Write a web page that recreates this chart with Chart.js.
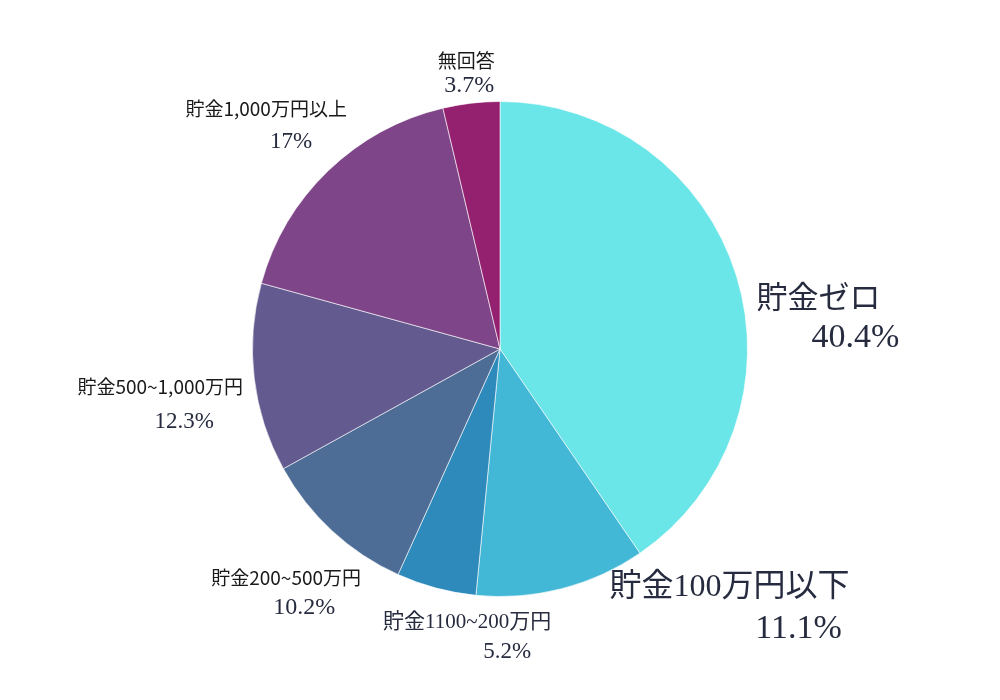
<!DOCTYPE html>
<html>
<head>
<meta charset="utf-8">
<script src="https://cdn.jsdelivr.net/npm/chart.js@4.4.1/dist/chart.umd.min.js"></script>
<style>
  html, body { margin: 0; padding: 0; background: #fff; }
  #wrap { width: 1000px; height: 700px; }
</style>
</head>
<body>
<div id="wrap"><canvas id="pie"></canvas></div>
<script>
// データ
const categories = ['貯金ゼロ', '貯金100万円以下', '貯金1100~200万円', '貯金200~500万円', '貯金500~1,000万円', '貯金1,000万円以上', '無回答'];
const shares = [40.4, 11.1, 5.2, 10.2, 12.3, 17, 3.7];
const sliceColors = ['#6ae5e8', '#42b7d6', '#2e8abb', '#4d6d97', '#635a8f', '#7f4589', '#93216f'];

// ラベルの配置（円弧の中点からのずれ）とフォント
const SERIF = '"Liberation Serif", "Noto Sans CJK JP", serif';
const SANS = '"Noto Sans CJK JP", sans-serif';
const labelLayout = [
    { dx: 82, dy: 24, dx2: 37, dy2: 38, nameFont: '31px ' + SERIF, nameColor: '#262b3f', pctFont: '34px ' + SERIF },
    { dx: 168, dy: -1, dx2: 69, dy2: 41, nameFont: '32px ' + SERIF, nameColor: '#262b3f', pctFont: '34px ' + SERIF },
    { dx: 31, dy: 34, dx2: 40, dy2: 30, nameFont: '21px ' + SERIF, nameColor: '#262b3f', pctFont: '23px ' + SERIF },
    { dx: -46, dy: 47, dx2: 18, dy2: 30, nameFont: '19px ' + SANS, nameColor: '#1a1a1a', pctFont: '24px ' + SERIF },
    { dx: -94, dy: 9, dx2: 24, dy2: 35, nameFont: '19px ' + SANS, nameColor: '#1a1a1a', pctFont: '23px ' + SERIF },
    { dx: -62, dy: -62, dx2: 25, dy2: 33, nameFont: '19px ' + SANS, nameColor: '#1a1a1a', pctFont: '23px ' + SERIF },
    { dx: -5, dy: -42, dx2: 3, dy2: 25, nameFont: '19px ' + SANS, nameColor: '#1a1a1a', pctFont: '24px ' + SERIF }
];

const sliceLabels = {
    id: 'sliceLabels',
    afterDatasetsDraw(chart) {
        const ctx = chart.ctx;
        const meta = chart.getDatasetMeta(0);
        meta.data.forEach((arc, i) => {
            const p = arc.getProps(['x', 'y', 'startAngle', 'endAngle', 'outerRadius'], true);
            const mid = (p.startAngle + p.endAngle) / 2;
            const ax = p.x + Math.cos(mid) * p.outerRadius;
            const ay = p.y + Math.sin(mid) * p.outerRadius;
            const lay = labelLayout[i];
            const x1 = ax + lay.dx, y1 = ay + lay.dy;
            ctx.save();
            ctx.textAlign = 'center';
            ctx.textBaseline = 'middle';
            ctx.font = lay.nameFont;
            ctx.fillStyle = lay.nameColor;
            ctx.fillText(categories[i], x1, y1);
            ctx.font = lay.pctFont;
            ctx.fillStyle = '#262b3f';
            ctx.fillText(shares[i] + '%', x1 + lay.dx2, y1 + lay.dy2);
            ctx.restore();
        });
    }
};

const ctx = document.getElementById('pie').getContext('2d');
const myChart = new Chart(ctx, {
    type: 'pie',
    data: {
        labels: categories,
        datasets: [{
            data: shares,
            backgroundColor: sliceColors,
            borderColor: 'rgba(255, 255, 255, 0.6)',
            borderWidth: 1
        }]
    },
    options: {
        responsive: true,
        maintainAspectRatio: false,
        animation: false,
        layout: { padding: { top: 101, bottom: 103, left: 0, right: 0 } },
        plugins: {
            legend: { display: false },
            tooltip: { enabled: false }
        }
    },
    plugins: [sliceLabels]
});
</script>
</body>
</html>
